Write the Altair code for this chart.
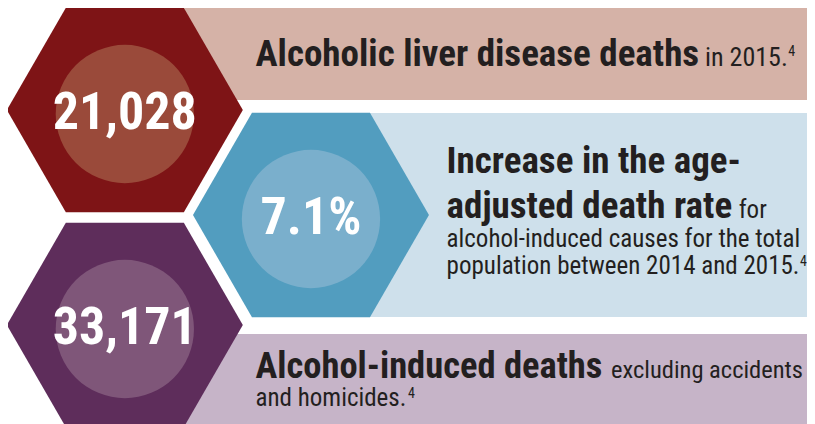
import altair as alt
import pandas as pd

# ---- content ----
stat_values = ["21,028", "7.1%", "33,171"]
headline_bold = [["Alcoholic liver disease deaths"],
                 ["Increase in the age-", "adjusted death rate"],
                 ["Alcohol-induced deaths"]]
detail_text = [["in 2015."],
               ["for", "alcohol-induced causes for the total", "population between 2014 and 2015."],
               ["excluding accidents", "and homicides."]]
footnote_marks = ["4", "4", "4"]

# ---- styles ----
hex_colors = ["#7E1416", "#529DBF", "#5E2D5B"]
circle_colors = ["#9A4A3A", "#7AAFCC", "#7F5679"]
band_colors = ["#D5B2A7", "#CEE0EB", "#C6B4C8"]
TEXT = "#231F20"
COND = "Roboto Condensed, Liberation Sans Narrow, Roboto, sans-serif"

# ---- layout (reference pixel space) ----
hex_cx = [126, 314, 126]
hex_cy = [110, 215, 325]
HEX_R = 118
CIRCLE_R = 78
band_x = [186, 314, 186]
band_y = [(8, 100), (113, 317), (334, 430)]

rows = range(3)
bands = pd.DataFrame({
    "x": band_x, "x2": [815] * 3,
    "y": [b[0] for b in band_y], "y2": [b[1] for b in band_y],
    "c": band_colors,
})
hexes = pd.DataFrame({"x": hex_cx, "y": hex_cy, "c": hex_colors})
circles = pd.DataFrame({"x": hex_cx, "y": [v + 4 for v in hex_cy], "c": circle_colors})
numbers = pd.DataFrame({"x": hex_cx, "y": [v + 19 for v in hex_cy], "t": stat_values})

bold_pos = [[(258, 66)], [(451, 173), (451, 218)], [(258, 378)]]
bold_size = [[37], [37, 37], [36.5]]
detail_pos = [[(712, 66)], [(746, 218), (451, 247), (451, 274)], [(617, 378), (258, 406)]]
detail_size = [[26], [25, 25, 25], [24.5, 25]]
sup_pos = [(796, 56), (808, 266), (412, 398)]

bold_rows, det_rows, sup_rows = [], [], []
for i in rows:
    for t, (x, y), s in zip(headline_bold[i], bold_pos[i], bold_size[i]):
        bold_rows.append({"x": x, "y": y, "t": t, "s": s})
    for t, (x, y), s in zip(detail_text[i], detail_pos[i], detail_size[i]):
        det_rows.append({"x": x, "y": y, "t": t, "s": s})
    sup_rows.append({"x": sup_pos[i][0], "y": sup_pos[i][1], "t": footnote_marks[i]})
bold_df = pd.DataFrame(bold_rows)
det_df = pd.DataFrame(det_rows)
sup_df = pd.DataFrame(sup_rows)

X = lambda f="x": alt.X(f"{f}:Q", scale=alt.Scale(domain=[8, 815], nice=False, zero=False), axis=None)
Y = lambda f="y": alt.Y(f"{f}:Q", scale=alt.Scale(domain=[8, 424], reverse=True, nice=False, zero=False), axis=None)

HEX_PATH = "M-1,0L-0.5,-0.866L0.5,-0.866L1,0L0.5,0.866L-0.5,0.866Z"

band_layer = alt.Chart(bands).mark_rect(clip=True).encode(
    x=X(), x2="x2:Q", y=Y(), y2="y2:Q",
    color=alt.Color("c:N", scale=None))
hex_layer = alt.Chart(hexes).mark_point(shape=HEX_PATH, filled=True, opacity=1,
                                        size=(2 * HEX_R) ** 2, clip=True).encode(
    x=X(), y=Y(), color=alt.Color("c:N", scale=None))
circle_layer = alt.Chart(circles).mark_circle(opacity=1, size=3.14159 * CIRCLE_R ** 2, clip=True).encode(
    x=X(), y=Y(), color=alt.Color("c:N", scale=None))
number_layer = alt.Chart(numbers).mark_text(font=COND, fontWeight="bold", fontSize=52,
                                            color="white", align="center", baseline="alphabetic").encode(
    x=X(), y=Y(), text="t:N")
bold_layer = alt.Chart(bold_df).mark_text(font=COND, fontWeight="bold",
                                          color=TEXT, align="left", baseline="alphabetic").encode(
    x=X(), y=Y(), text="t:N", size=alt.Size("s:Q", scale=None, legend=None))
det_layer = alt.Chart(det_df).mark_text(font=COND, color=TEXT, align="left",
                                        baseline="alphabetic").encode(
    x=X(), y=Y(), text="t:N", size=alt.Size("s:Q", scale=None, legend=None))
sup_layer = alt.Chart(sup_df).mark_text(font=COND, fontSize=14, color=TEXT, align="left",
                                        baseline="alphabetic").encode(
    x=X(), y=Y(), text="t:N")

chart = alt.layer(band_layer, hex_layer, circle_layer, number_layer,
                  bold_layer, det_layer, sup_layer).properties(
    width=799, height=416, padding=0,
    autosize=alt.AutoSizeParams(type="none"),
    background="white",
).configure_view(stroke=None)

chart.save("out.html", embed_options={"renderer": "svg", "actions": False})
